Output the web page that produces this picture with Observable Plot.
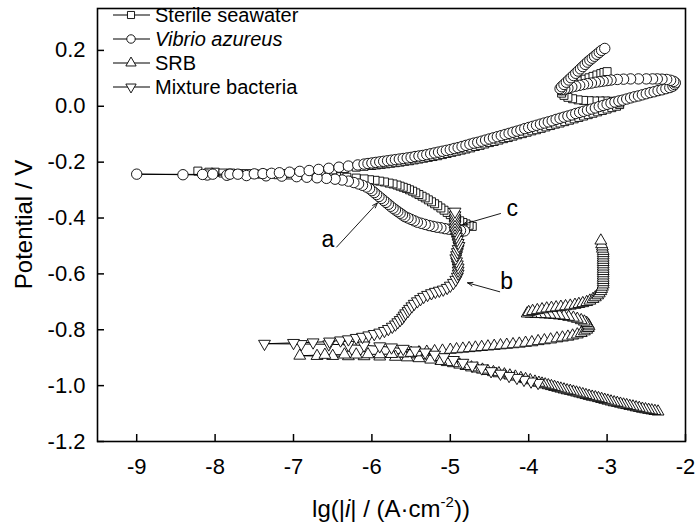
<!DOCTYPE html>
<html><head><meta charset="utf-8">
<script src="https://cdn.jsdelivr.net/npm/d3@7"></script>
<script src="https://cdn.jsdelivr.net/npm/@observablehq/plot@0.6"></script>
<style>body{margin:0;background:#fff}#chart{width:700px;height:528px}</style>
</head><body><div id="chart"></div>
<script>
// ---- data (x = lg|i|, y = potential V) ----
const seriesNames = ["Sterile seawater", "Vibrio azureus", "SRB", "Mixture bacteria"];
const xTicks = [-9, -8, -7, -6, -5, -4, -3, -2];
const yTicks = [-1.2, -1.0, -0.8, -0.6, -0.4, -0.2, 0.0, 0.2];

const sterileCathodic = [[-4.72,-0.43],[-4.76,-0.426],[-4.8,-0.421],[-4.84,-0.416],[-4.88,-0.41],[-4.92,-0.403],[-4.96,-0.396],[-5.0,-0.388],[-5.04,-0.38],[-5.08,-0.372],[-5.12,-0.364],[-5.16,-0.356],[-5.2,-0.349],[-5.24,-0.342],[-5.28,-0.335],[-5.32,-0.328],[-5.36,-0.322],[-5.4,-0.316],[-5.44,-0.31],[-5.48,-0.304],[-5.52,-0.299],[-5.56,-0.294],[-5.6,-0.29],[-5.64,-0.286],[-5.68,-0.282],[-5.73,-0.278],[-5.78,-0.275],[-5.84,-0.271],[-5.9,-0.268],[-5.96,-0.265],[-6.03,-0.263],[-6.1,-0.26],[-6.2,-0.257],[-6.32,-0.254],[-6.45,-0.252],[-6.6,-0.25],[-6.75,-0.248],[-6.9,-0.247],[-7.05,-0.246],[-7.2,-0.245],[-7.4,-0.243],[-7.6,-0.241],[-7.8,-0.239],[-8.0,-0.236],[-8.22,-0.232]];
const sterileAnodic = [[-8.08,-0.236],[-7.9,-0.239],[-7.7,-0.241],[-7.5,-0.242],[-7.3,-0.242],[-7.1,-0.241],[-6.95,-0.239],[-6.8,-0.236],[-6.65,-0.232],[-6.5,-0.228],[-6.35,-0.223],[-6.2,-0.218],[-6.1,-0.215],[-6.0,-0.212],[-5.94,-0.21],[-5.88,-0.208],[-5.82,-0.206],[-5.76,-0.204],[-5.7,-0.202],[-5.64,-0.2],[-5.58,-0.197],[-5.52,-0.195],[-5.46,-0.192],[-5.4,-0.189],[-5.34,-0.186],[-5.28,-0.183],[-5.22,-0.18],[-5.16,-0.177],[-5.1,-0.173],[-5.04,-0.169],[-4.98,-0.165],[-4.92,-0.161],[-4.86,-0.157],[-4.8,-0.153],[-4.74,-0.149],[-4.68,-0.144],[-4.62,-0.14],[-4.56,-0.135],[-4.5,-0.13],[-4.44,-0.126],[-4.38,-0.121],[-4.32,-0.116],[-4.26,-0.112],[-4.2,-0.107],[-4.14,-0.102],[-4.08,-0.098],[-4.02,-0.093],[-3.96,-0.088],[-3.9,-0.084],[-3.84,-0.079],[-3.78,-0.074],[-3.72,-0.069],[-3.66,-0.064],[-3.6,-0.06],[-3.54,-0.055],[-3.48,-0.05],[-3.42,-0.045],[-3.36,-0.04],[-3.3,-0.035],[-3.24,-0.03],[-3.18,-0.025],[-3.12,-0.02],[-3.06,-0.015],[-3.0,-0.01],[-2.94,-0.005],[-2.88,0.0],[-2.84,0.006],[-2.84,0.012],[-2.89,0.016],[-2.95,0.018],[-3.02,0.019],[-3.09,0.019],[-3.16,0.019],[-3.23,0.02],[-3.3,0.021],[-3.37,0.023],[-3.44,0.027],[-3.5,0.032],[-3.55,0.039],[-3.58,0.047],[-3.57,0.055],[-3.53,0.063],[-3.48,0.071],[-3.43,0.078],[-3.38,0.085],[-3.33,0.091],[-3.28,0.097],[-3.23,0.102],[-3.18,0.107],[-3.13,0.112],[-3.08,0.117],[-3.04,0.121],[-3.0,0.124]];

const vibrioCathodic = [[-4.82,-0.446],[-4.87,-0.445],[-4.92,-0.444],[-4.97,-0.442],[-5.02,-0.44],[-5.07,-0.438],[-5.12,-0.435],[-5.17,-0.433],[-5.22,-0.43],[-5.27,-0.427],[-5.32,-0.423],[-5.37,-0.419],[-5.42,-0.415],[-5.46,-0.41],[-5.5,-0.405],[-5.54,-0.4],[-5.58,-0.395],[-5.61,-0.389],[-5.64,-0.383],[-5.67,-0.377],[-5.7,-0.371],[-5.73,-0.365],[-5.76,-0.358],[-5.79,-0.351],[-5.82,-0.344],[-5.85,-0.337],[-5.88,-0.33],[-5.91,-0.323],[-5.94,-0.316],[-5.97,-0.309],[-6.0,-0.302],[-6.03,-0.295],[-6.07,-0.289],[-6.12,-0.283],[-6.17,-0.278],[-6.23,-0.273],[-6.3,-0.268],[-6.38,-0.264],[-6.47,-0.261],[-6.58,-0.258],[-6.7,-0.256],[-6.83,-0.254],[-6.96,-0.252],[-7.15,-0.25],[-7.35,-0.249],[-7.6,-0.248],[-7.85,-0.247],[-8.1,-0.246],[-8.41,-0.245],[-9.0,-0.243]];
const vibrioAnodic = [[-8.16,-0.244],[-8.03,-0.243],[-7.81,-0.243],[-7.71,-0.243],[-7.5,-0.242],[-7.39,-0.241],[-7.28,-0.24],[-7.18,-0.238],[-7.05,-0.236],[-6.92,-0.233],[-6.8,-0.23],[-6.68,-0.226],[-6.55,-0.222],[-6.42,-0.218],[-6.3,-0.214],[-6.18,-0.21],[-6.1,-0.207],[-6.05,-0.205],[-6.0,-0.203],[-5.95,-0.201],[-5.9,-0.199],[-5.85,-0.197],[-5.8,-0.195],[-5.75,-0.193],[-5.7,-0.191],[-5.65,-0.189],[-5.6,-0.187],[-5.55,-0.185],[-5.5,-0.183],[-5.45,-0.18],[-5.4,-0.178],[-5.35,-0.176],[-5.3,-0.173],[-5.25,-0.17],[-5.2,-0.167],[-5.15,-0.164],[-5.1,-0.161],[-5.05,-0.158],[-5.0,-0.155],[-4.95,-0.151],[-4.9,-0.148],[-4.85,-0.144],[-4.8,-0.14],[-4.75,-0.136],[-4.7,-0.132],[-4.65,-0.129],[-4.6,-0.125],[-4.55,-0.121],[-4.5,-0.117],[-4.45,-0.113],[-4.4,-0.109],[-4.35,-0.105],[-4.3,-0.101],[-4.25,-0.097],[-4.2,-0.093],[-4.15,-0.089],[-4.1,-0.085],[-4.05,-0.08],[-4.0,-0.076],[-3.95,-0.072],[-3.9,-0.068],[-3.85,-0.064],[-3.8,-0.06],[-3.75,-0.056],[-3.7,-0.052],[-3.65,-0.047],[-3.6,-0.043],[-3.55,-0.039],[-3.5,-0.035],[-3.45,-0.031],[-3.4,-0.026],[-3.35,-0.022],[-3.3,-0.018],[-3.25,-0.014],[-3.2,-0.01],[-3.15,-0.006],[-3.1,-0.001],[-3.05,0.003],[-3.0,0.007],[-2.95,0.011],[-2.9,0.015],[-2.85,0.019],[-2.8,0.022],[-2.75,0.026],[-2.7,0.03],[-2.65,0.034],[-2.6,0.037],[-2.55,0.041],[-2.5,0.045],[-2.45,0.049],[-2.4,0.052],[-2.35,0.056],[-2.3,0.059],[-2.25,0.063],[-2.2,0.067],[-2.16,0.072],[-2.14,0.078],[-2.13,0.084],[-2.15,0.089],[-2.19,0.093],[-2.24,0.096],[-2.3,0.097],[-2.36,0.098],[-2.42,0.098],[-2.5,0.098],[-2.6,0.098],[-2.7,0.098],[-2.79,0.097],[-2.87,0.096],[-2.95,0.094],[-3.0,0.092],[-3.05,0.09],[-3.1,0.088],[-3.15,0.086],[-3.2,0.083],[-3.25,0.081],[-3.3,0.078],[-3.35,0.075],[-3.4,0.072],[-3.45,0.069],[-3.5,0.065],[-3.54,0.062],[-3.58,0.06],[-3.6,0.063],[-3.58,0.07],[-3.55,0.078],[-3.52,0.086],[-3.49,0.094],[-3.46,0.102],[-3.43,0.11],[-3.4,0.118],[-3.37,0.126],[-3.34,0.134],[-3.31,0.142],[-3.28,0.15],[-3.25,0.158],[-3.22,0.165],[-3.19,0.172],[-3.16,0.179],[-3.13,0.186],[-3.1,0.193],[-3.07,0.2],[-3.03,0.207]];

const srbCathodic = [[-2.35,-1.093],[-2.39,-1.091],[-2.43,-1.089],[-2.47,-1.087],[-2.51,-1.085],[-2.55,-1.083],[-2.59,-1.08],[-2.63,-1.078],[-2.67,-1.075],[-2.71,-1.073],[-2.75,-1.07],[-2.79,-1.068],[-2.83,-1.065],[-2.87,-1.062],[-2.91,-1.06],[-2.95,-1.057],[-2.99,-1.054],[-3.03,-1.051],[-3.07,-1.048],[-3.11,-1.045],[-3.15,-1.042],[-3.19,-1.04],[-3.23,-1.037],[-3.27,-1.034],[-3.31,-1.031],[-3.35,-1.028],[-3.39,-1.025],[-3.43,-1.022],[-3.47,-1.019],[-3.51,-1.017],[-3.55,-1.014],[-3.59,-1.011],[-3.63,-1.008],[-3.67,-1.005],[-3.71,-1.002],[-3.75,-0.999],[-3.79,-0.996],[-3.83,-0.993],[-3.87,-0.99],[-3.92,-0.986],[-3.98,-0.981],[-4.04,-0.977],[-4.1,-0.973],[-4.17,-0.968],[-4.24,-0.964],[-4.31,-0.96],[-4.38,-0.956],[-4.45,-0.952],[-4.52,-0.948],[-4.59,-0.943],[-4.66,-0.939],[-4.73,-0.935],[-4.8,-0.93],[-4.88,-0.925],[-4.96,-0.92],[-5.04,-0.916],[-5.12,-0.912],[-5.25,-0.907],[-5.4,-0.902],[-5.55,-0.899],[-5.7,-0.897],[-5.9,-0.896],[-6.1,-0.895],[-6.3,-0.895],[-6.5,-0.894],[-6.7,-0.894],[-6.92,-0.893]];
const srbAnodic = [[-6.6,-0.89],[-6.35,-0.889],[-6.2,-0.889],[-6.05,-0.888],[-5.9,-0.888],[-5.75,-0.887],[-5.6,-0.885],[-5.5,-0.883],[-5.4,-0.881],[-5.3,-0.879],[-5.2,-0.877],[-5.1,-0.875],[-5.0,-0.872],[-4.92,-0.87],[-4.84,-0.868],[-4.76,-0.866],[-4.68,-0.864],[-4.6,-0.862],[-4.52,-0.86],[-4.44,-0.858],[-4.36,-0.856],[-4.28,-0.854],[-4.2,-0.852],[-4.12,-0.85],[-4.04,-0.847],[-3.96,-0.845],[-3.88,-0.841],[-3.8,-0.838],[-3.72,-0.835],[-3.64,-0.831],[-3.57,-0.828],[-3.5,-0.825],[-3.44,-0.821],[-3.38,-0.817],[-3.33,-0.812],[-3.29,-0.806],[-3.26,-0.8],[-3.24,-0.794],[-3.23,-0.788],[-3.24,-0.782],[-3.26,-0.776],[-3.29,-0.771],[-3.33,-0.766],[-3.38,-0.761],[-3.43,-0.757],[-3.49,-0.754],[-3.55,-0.751],[-3.61,-0.749],[-3.67,-0.747],[-3.73,-0.746],[-3.79,-0.745],[-3.85,-0.744],[-3.91,-0.744],[-3.97,-0.743],[-4.02,-0.742],[-4.0,-0.737],[-3.95,-0.733],[-3.89,-0.73],[-3.83,-0.727],[-3.77,-0.724],[-3.71,-0.722],[-3.65,-0.72],[-3.59,-0.718],[-3.53,-0.716],[-3.47,-0.714],[-3.41,-0.711],[-3.36,-0.708],[-3.31,-0.705],[-3.26,-0.701],[-3.22,-0.696],[-3.18,-0.69],[-3.15,-0.684],[-3.12,-0.677],[-3.1,-0.67],[-3.08,-0.662],[-3.07,-0.654],[-3.06,-0.646],[-3.05,-0.638],[-3.05,-0.63],[-3.05,-0.622],[-3.05,-0.614],[-3.05,-0.606],[-3.05,-0.598],[-3.05,-0.59],[-3.05,-0.582],[-3.05,-0.574],[-3.05,-0.566],[-3.05,-0.558],[-3.05,-0.55],[-3.05,-0.542],[-3.05,-0.534],[-3.05,-0.526],[-3.05,-0.518],[-3.06,-0.51],[-3.06,-0.502],[-3.07,-0.494],[-3.08,-0.481]];

const mixtureCathodic = [[-3.88,-0.99],[-3.97,-0.985],[-4.06,-0.979],[-4.15,-0.972],[-4.25,-0.965],[-4.36,-0.957],[-4.48,-0.948],[-4.6,-0.938],[-4.72,-0.928],[-4.84,-0.918],[-4.96,-0.908],[-5.08,-0.898],[-5.2,-0.889],[-5.32,-0.881],[-5.45,-0.874],[-5.6,-0.868],[-5.75,-0.863],[-5.9,-0.859],[-6.1,-0.856],[-6.3,-0.854],[-6.55,-0.852],[-6.9,-0.851],[-7.37,-0.85]];
const mixtureAnodic = [[-7.0,-0.847],[-6.75,-0.845],[-6.54,-0.842],[-6.4,-0.838],[-6.3,-0.834],[-6.2,-0.829],[-6.12,-0.825],[-6.04,-0.82],[-5.97,-0.815],[-5.9,-0.81],[-5.84,-0.804],[-5.79,-0.797],[-5.74,-0.789],[-5.7,-0.781],[-5.67,-0.773],[-5.64,-0.765],[-5.61,-0.757],[-5.59,-0.749],[-5.57,-0.741],[-5.54,-0.733],[-5.52,-0.725],[-5.49,-0.716],[-5.46,-0.707],[-5.42,-0.698],[-5.38,-0.69],[-5.34,-0.682],[-5.29,-0.675],[-5.24,-0.669],[-5.19,-0.664],[-5.14,-0.66],[-5.09,-0.656],[-5.04,-0.65],[-5.0,-0.642],[-4.96,-0.632],[-4.93,-0.621],[-4.91,-0.61],[-4.9,-0.599],[-4.9,-0.588],[-4.9,-0.577],[-4.91,-0.566],[-4.92,-0.555],[-4.93,-0.544],[-4.92,-0.533],[-4.91,-0.522],[-4.9,-0.511],[-4.89,-0.5],[-4.9,-0.489],[-4.91,-0.478],[-4.92,-0.467],[-4.93,-0.456],[-4.94,-0.445],[-4.94,-0.434],[-4.94,-0.423],[-4.94,-0.412],[-4.94,-0.401],[-4.94,-0.39],[-4.94,-0.377]];

const annotLabels = ["a", "b", "c"];
const annotTextX = [-6.56, -4.28, -4.21];
const annotTextY = [-0.479, -0.629, -0.366];
const annotTailX = [-6.45, -4.37, -4.36];
const annotTailY = [-0.504, -0.664, -0.384];
const annotHeadX = [-5.93, -4.78, -4.84];
const annotHeadY = [-0.346, -0.632, -0.423];

// ---- build tables ----
const toPoints = pairs => pairs.map(([x, y]) => ({x, y}));
const seriesData = [
  toPoints(sterileCathodic.concat(sterileAnodic)),
  toPoints(vibrioCathodic.concat(vibrioAnodic)),
  toPoints(srbCathodic.concat(srbAnodic)),
  toPoints(mixtureCathodic.concat(mixtureAnodic))
];
const annotations = annotLabels.map((label, i) => ({
  label, x: annotTextX[i], y: annotTextY[i],
  x1: annotTailX[i], y1: annotTailY[i], x2: annotHeadX[i], y2: annotHeadY[i]
}));

// ---- styles ----
const downTriangle = {
  draw(context, size) {
    const y = Math.sqrt(size / (Math.sqrt(3) * 3));
    context.moveTo(0, 2 * y);
    context.lineTo(-Math.sqrt(3) * y, -y);
    context.lineTo(Math.sqrt(3) * y, -y);
    context.closePath();
  }
};
const seriesSymbols = ["square", "circle", "triangle", downTriangle];
const seriesR = [4.5, 5.2, 4.4, 4.4];
const FONT = "'Liberation Sans', Arial, sans-serif";

const W = 700, H = 528, mL = 97, mR = 15, mT = 8, mB = 87;

const marks = [];
seriesData.forEach((data, i) => {
  marks.push(Plot.line(data, {x: "x", y: "y", stroke: "black", strokeWidth: 1}));
  marks.push(Plot.dot(data, {x: "x", y: "y", symbol: seriesSymbols[i], r: seriesR[i], fill: "white", stroke: "black", strokeWidth: 0.9}));
});

const chart = Plot.plot({
  width: W, height: H,
  marginLeft: mL, marginRight: mR, marginTop: mT, marginBottom: mB,
  x: {domain: [-9.5, -2]},
  y: {domain: [-1.2, 0.35]},
  style: {fontFamily: FONT, background: "white", color: "black", overflow: "visible"},
  marks: [
    Plot.axisX(xTicks, {tickSize: 0, tickPadding: 17, fontSize: 22, tickFormat: d => String(d), label: null}),
    Plot.axisY(yTicks, {tickSize: 0, tickPadding: 12, fontSize: 22, tickFormat: d => d.toFixed(1), label: null}),
    Plot.tickX(xTicks, {x: d => d, insetTop: H - mT - mB - 7, stroke: "black", strokeWidth: 1.5}),
    Plot.tickY(yTicks, {y: d => d, insetRight: W - mL - mR - 7, stroke: "black", strokeWidth: 1.5}),
    ...marks,
    Plot.arrow(annotations, {x1: "x1", y1: "y1", x2: "x2", y2: "y2", stroke: "black", strokeWidth: 0.9, headLength: 9, headAngle: 40}),
    Plot.text(annotations, {x: "x", y: "y", text: "label", fontSize: 23, fill: "black"}),
    Plot.frame({stroke: "black", strokeWidth: 1.6})
  ]
});

const svg = d3.select(chart);

// x-axis title
const xt = svg.append("text").attr("x", (mL + W - mR) / 2).attr("y", 517)
  .attr("text-anchor", "middle").attr("fill", "black")
  .style("font-family", FONT).style("font-size", "24px");
xt.append("tspan").text("lg(|");
xt.append("tspan").attr("font-style", "italic").text("i");
xt.append("tspan").text("| / (A·cm");
xt.append("tspan").attr("dy", -10).attr("font-size", "15px").text("-2");
xt.append("tspan").attr("dy", 10).text("))");

// y-axis title
svg.append("text").attr("transform", `translate(24,${(mT + H - mB) / 2}) rotate(-90)`)
  .attr("text-anchor", "middle").attr("dy", "0.35em").attr("fill", "black")
  .style("font-family", FONT).style("font-size", "24px").text("Potential / V");

// legend
const lg = svg.append("g");
seriesNames.forEach((name, i) => {
  const y = 15 + 24 * i;
  lg.append("line").attr("x1", 113).attr("x2", 150).attr("y1", y).attr("y2", y)
    .attr("stroke", "black").attr("stroke-width", 1.2);
  const sym = typeof seriesSymbols[i] === "string"
    ? {square: d3.symbolSquare, circle: d3.symbolCircle, triangle: d3.symbolTriangle}[seriesSymbols[i]]
    : seriesSymbols[i];
  const size = [50, 56, 46, 46][i];
  lg.append("path").attr("d", d3.symbol(sym, size)()).attr("transform", `translate(131,${y})`)
    .attr("fill", "white").attr("stroke", "black").attr("stroke-width", 0.9);
  const t = lg.append("text").attr("x", 155).attr("y", y).attr("dy", "0.35em")
    .attr("text-anchor", "start").attr("fill", "black")
    .style("font-family", FONT).style("font-size", "20px");
  if (i === 1) t.attr("font-style", "italic");
  t.text(name);
});

document.getElementById("chart").appendChild(chart);
</script></body></html>
